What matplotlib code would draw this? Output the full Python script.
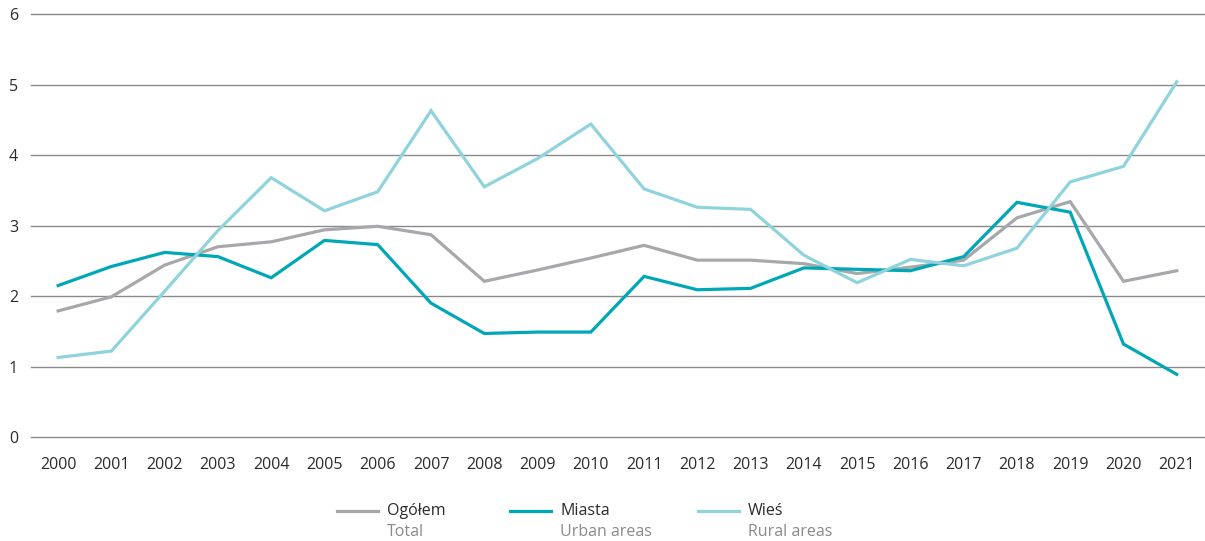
import matplotlib
matplotlib.use("Agg")
import matplotlib.pyplot as plt
from matplotlib.lines import Line2D

plt.rcParams["font.family"] = ["Open Sans", "DejaVu Sans"]

# ---- dane ----
lata = list(range(2000, 2022))
ogolem = [1.79, 1.99, 2.44, 2.70, 2.77, 2.94, 2.99, 2.87, 2.21, 2.37, 2.54,
          2.72, 2.51, 2.51, 2.46, 2.32, 2.41, 2.51, 3.11, 3.34, 2.21, 2.36]
miasta = [2.15, 2.42, 2.62, 2.56, 2.26, 2.79, 2.73, 1.90, 1.47, 1.49, 1.49,
          2.28, 2.09, 2.11, 2.40, 2.38, 2.36, 2.56, 3.33, 3.19, 1.32, 0.89]
wies = [1.13, 1.22, 2.07, 2.93, 3.68, 3.21, 3.48, 4.63, 3.55, 3.95, 4.44,
        3.52, 3.26, 3.23, 2.58, 2.19, 2.52, 2.43, 2.68, 3.62, 3.84, 5.04]

nazwy = ["Ogółem", "Miasta", "Wieś"]
nazwy_en = ["Total", "Urban areas", "Rural areas"]
kolory = ["#a7a8ab", "#00a7b7", "#8fd4dc"]

fig = plt.figure(figsize=(12.05, 5.41), dpi=100)
ax = fig.add_axes([0.0257, 0.192, 0.9743, 0.782])

for serie, kolor in zip([ogolem, miasta, wies], kolory):
    ax.plot(lata, serie, color=kolor, lw=2.3, solid_joinstyle="miter", zorder=3)

ax.set_xlim(1999.49, 2021.53)
ax.set_ylim(0, 6)
ax.set_yticks(range(0, 7))
ax.set_xticks(lata)
ax.grid(axis="y", color="#8a8a8a", lw=1)
for g in ax.get_ygridlines():
    g.set_clip_on(False)
ax.set_axisbelow(True)
for s in ax.spines.values():
    s.set_visible(False)
ax.tick_params(axis="both", length=0, labelsize=11.5, colors="#2b2b2b")
ax.tick_params(axis="x", pad=14)
ax.tick_params(axis="y", pad=0)
for lab in ax.get_yticklabels():
    lab.set_horizontalalignment("left")
    lab.set_x(-0.0257 + 0.007)

# ---- legenda ----
pozycje = [337, 510, 698]
W, H = 1205, 541
for x0, nazwa, en, kolor in zip(pozycje, nazwy, nazwy_en, kolory):
    fig.add_artist(Line2D([x0 / W, (x0 + 41) / W], [1 - 511 / H, 1 - 511 / H],
                          color=kolor, lw=2.3, transform=fig.transFigure))
    fig.text((x0 + 50) / W, 1 - 511 / H, nazwa, fontsize=11.5, color="#2b2b2b",
             va="center", ha="left")
    fig.text((x0 + 50) / W, 1 - 532 / H, en, fontsize=11.5, color="#8a8a8a",
             va="center", ha="left")

fig.savefig("out.png", dpi=100)
